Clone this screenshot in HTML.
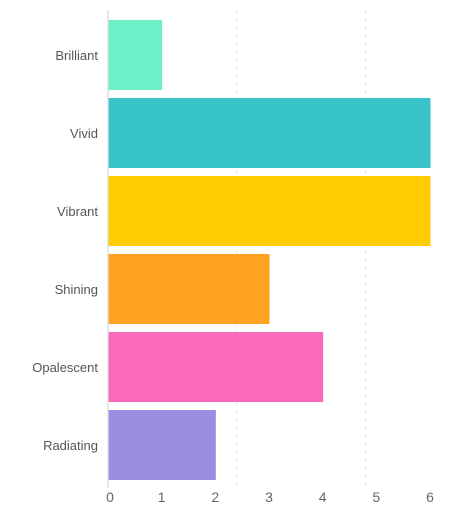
<!DOCTYPE html>
<html><head><style>
body{margin:0;background:#fff;}
svg{display:block;font-family:"Liberation Sans",sans-serif;}
</style></head><body>
<svg id="c" width="450" height="511"></svg>
<script>
const categories=["Brilliant","Vivid","Vibrant","Shining","Opalescent","Radiating"];
const values=[1,6,6,3,4,2];
const colors=["#6cf0c8","#38c3c8","#ffcc00","#ffa220","#f96bba","#9a8ee2"];
const tickLabels=[0,1,2,3,4,5,6];
const gridValues=[2.4,4.8];
const x0=108,xUnit=(430-108)/6,top0=20,step=78,bh=70;
const x=v=>x0+v*xUnit;
const ns="http://www.w3.org/2000/svg";
const svg=document.getElementById('c');
function mk(t,a){const e=document.createElementNS(ns,t);for(const k in a)e.setAttribute(k,a[k]);svg.appendChild(e);return e;}
gridValues.forEach(g=>{const l=mk('line',{x1:x(g),x2:x(g),y1:10,y2:488,stroke:'#e6e6e6','stroke-dasharray':'4,4'});

});
categories.forEach((c,i)=>{const y=top0+i*step;
const r=mk('rect',{x:x0+0.5,y:y,width:x(values[i])-x0,height:bh,fill:colors[i]});


const t=mk('text',{x:98,y:y+bh/2+5,'text-anchor':'end','font-size':13,fill:'#555'});t.textContent=c;

});
const ax=mk('line',{x1:x0,x2:x0,y1:10,y2:488,stroke:'#ddd','stroke-width':1.5});


tickLabels.forEach(v=>{const t=mk('text',{x:x(v)+(v===0?2:0),y:502,'text-anchor':'middle','font-size':14,fill:'#666'});t.textContent=v;

});
</script>
</body></html>
